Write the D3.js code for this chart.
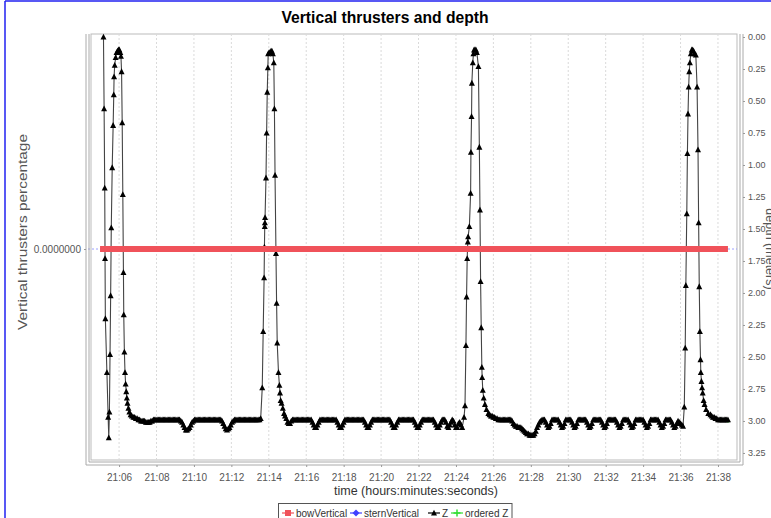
<!DOCTYPE html>
<html><head><meta charset="utf-8">
<script src="https://cdn.jsdelivr.net/npm/d3@7"></script>
<style>body{margin:0;background:#fff;overflow:hidden} svg{display:block}</style>
</head><body><svg id="c" width="771" height="518"></svg>
<script>
// ---------------- data ----------------
const chartTitle = "Vertical thrusters and depth";
const xAxisTitle = "time (hours:minutes:seconds)";
const yLeftTitle = "Vertical thrusters percentage";
const yRightTitle = "depth (meters)";
const xTickLabels = ["21:06","21:08","21:10","21:12","21:14","21:16","21:18","21:20","21:22","21:24","21:26","21:28","21:30","21:32","21:34","21:36","21:38"];
const depthTicks = [0,0.25,0.5,0.75,1,1.25,1.5,1.75,2,2.25,2.5,2.75,3,3.25];
const thrusterTicks = [0];
const legendLabels = ["bowVertical","sternVertical","Z","ordered Z"];

// times are seconds after 21:00:00
const bowTimes = [299, 2312];
const bowValues = [0, 0];
const sternTimes = [299, 2312];
const sternValues = [0, 0];
const orderedZTimes = [2312];
const orderedZValues = [3.0];

const zDive1 = [[310,0.00],[312,0.56],[314,1.18],[315,1.73],[316,2.20],[321,2.62],[325,2.97],[327,3.13],[329,2.93],[331,2.48],[333,2.02],[335,1.49],[338,1.02],[341,0.69],[343,0.45],[344,0.31],[346,0.22],[349,0.16],[352,0.12],[355,0.11],[358,0.10],[361,0.10],[364,0.12],[366,0.15],[368,0.27],[370,0.67],[372,1.23],[374,1.84],[375,2.17],[377,2.46],[379,2.62],[381,2.71],[383,2.77],[385,2.82],[387,2.86],[390,2.90],[393,2.93],[397,2.95],[401,2.96]];
const zFlatStep = 4;
const zFlat1Start = 406;
const zFlat1 = [2.97,2.97,2.98,2.98,2.99,2.99,3.00,3.00,3.00,3.00,3.01,3.01,3.01,3.01,3.00,3.00,
  2.99,2.99,2.99,2.99,2.99,2.99,2.99,2.99,2.99,2.99,2.99,2.99,2.99,2.99,2.99,2.99,2.99,2.99,2.99,2.99,2.99,2.99,
  3.00,3.01,3.03,3.05,3.07,3.07,3.06,3.05,3.03,3.01,3.00,
  2.99,2.99,2.99,2.99,2.99,2.99,2.99,2.99,2.99,2.99,2.99,2.99,2.99,2.99,2.99,2.99,2.99,2.99,2.99,2.99,2.99,2.99,
  3.00,3.02,3.04,3.06,3.07,3.06,3.05,3.03,3.01,3.00,
  2.99,2.99,2.99,2.99,2.99,2.99,2.99,2.99,2.99,2.99,2.99,2.99,2.99,2.99,2.99,2.99,2.99,2.99,2.99,2.99,2.99,2.98];
const zDive2 = [[819,2.74],[822,2.30],[825,1.88],[826,1.64],[827,1.48],[827.5,1.45],[828,1.41],[831,1.10],[833,0.75],[835,0.43],[837,0.24],[838,0.13],[841,0.12],[844,0.12],[847,0.11],[850,0.11],[853,0.13],[856,0.20],[858,0.56],[860,1.08],[863,1.69],[865,2.08],[867,2.39],[871,2.62],[874,2.72],[876,2.78],[878,2.84],[881,2.86],[885,2.90],[889,2.94]];
const zFlat2Start = 892;
const zFlat2 = [2.96,2.98,3.01,3.02,3.02,3.00,2.99,
  2.99,2.99,2.99,2.99,2.99,2.99,2.99,2.99,2.99,2.99,2.99,2.99,2.99,2.99,2.99,
  3.01,3.03,3.05,3.05,3.03,3.01,
  2.99,2.99,2.99,2.99,2.99,2.99,2.99,2.99,2.99,2.99,2.99,2.99,2.99,2.99,
  3.01,3.03,3.05,3.05,3.03,3.01,
  2.99,2.99,2.99,2.99,2.99,2.99,2.99,2.99,2.99,2.99,2.99,2.99,2.99,2.99,2.99,2.99,
  3.01,3.03,3.05,3.05,3.03,3.01,
  2.99,2.99,2.99,2.99,2.99,2.99,2.99,2.99,2.99,2.99,2.99,2.99,2.99,2.99,2.99,
  3.01,3.03,3.05,3.05,3.03,3.01,
  2.99,2.99,2.99,2.99,2.99,2.99,2.99,2.99,2.99,2.99,2.99,2.99,2.99,
  3.01,3.03,3.05,3.05,3.03,3.01,
  2.99,2.99,2.99,2.99,2.99,2.99,2.99,2.99,2.99,2.99,
  3.01,3.03,3.05,3.05,3.03,3.01,
  2.99,2.99,2.99,
  3.01,3.04,3.05,3.03,3.01,
  2.99,3.00,3.03,3.05,3.05,3.02,
  3.01,3.03,3.05];
const zDive3 = [[1466,2.97],[1469,2.88],[1472,2.41],[1474,2.03],[1476,1.73],[1477,1.66],[1478,1.60],[1479,1.56],[1483,1.48],[1487,1.22],[1488,0.90],[1490,0.62],[1491,0.36],[1494,0.20],[1496,0.13],[1498,0.10],[1501,0.10],[1504,0.10],[1507,0.12],[1512,0.23],[1515,0.86],[1517,1.35],[1519,1.91],[1521,2.27],[1523,2.58],[1524,2.66],[1526,2.76],[1529,2.82],[1533,2.87],[1538,2.91],[1544,2.94],[1548,2.95]];
const zFlat3Start = 1552;
const zFlat3 = [2.96,2.96,2.97,2.97,2.98,2.98,
  2.99,2.99,2.99,2.99,2.99,2.99,2.99,2.99,2.99,2.99,2.99,
  3.00,3.02,3.03,3.04,3.04,3.05,3.05,3.05,3.06,3.07,3.08,3.09,3.10,3.10,3.11,3.11,3.11,3.11,3.10,3.08,3.05,3.03,3.01,3.00,
  2.99,2.99,2.99,
  3.01,3.03,3.05,3.04,3.02,
  2.99,2.99,2.99,2.99,2.99,2.99,
  3.01,3.03,3.05,3.04,3.02,
  2.99,2.99,2.99,2.99,2.99,
  3.01,3.03,3.05,3.04,3.02,
  2.99,2.99,2.99,2.99,2.99,2.99,2.99,
  3.01,3.03,3.05,3.04,3.02,
  2.99,2.99,2.99,2.99,2.99,2.99,2.99,
  3.01,3.03,3.05,3.04,3.02,
  2.99,2.99,2.99,2.99,2.99,2.99,2.99,
  3.01,3.03,3.05,3.04,3.02,
  2.99,2.99,2.99,2.99,2.99,
  3.01,3.03,3.05,3.04,3.02,
  2.99,2.99,2.99,2.99,2.99,2.99,2.99,
  3.01,3.03,3.05,3.04,3.02,
  2.99,2.99,2.99,2.99,2.99,2.99,2.99,
  3.01,3.03,3.05,3.04,3.02,
  2.99,2.99,2.99,2.99,2.99,
  3.01,3.03,3.05,3.04,3.02,
  3.00,3.01,3.02];
const zDive4 = [[2164,3.03],[2168,3.04],[2172,2.89],[2175,2.43],[2177,1.94],[2180,1.38],[2182,0.91],[2184,0.60],[2186,0.39],[2188,0.27],[2190,0.20],[2193,0.13],[2196,0.10],[2199,0.10],[2202,0.11],[2205,0.13],[2209,0.14],[2213,0.39],[2216,0.88],[2218,1.45],[2220,1.95],[2222,2.30],[2224,2.52],[2225,2.62],[2227,2.69],[2229,2.74],[2231,2.78],[2234,2.84],[2237,2.87],[2242,2.91],[2249,2.94],[2256,2.95]];
const zFlat4Start = 2260;
const zFlat4 = [2.96,2.97,2.97,2.98,2.98,2.99,2.99,2.99,2.99,2.99,2.99,2.99,2.99,2.99];

// ---------------- build ----------------
const flat = (start, vals) => vals.map((v,i)=>[start + i*zFlatStep, v]);
const zData = [].concat(zDive1, flat(zFlat1Start,zFlat1), zDive2, flat(zFlat2Start,zFlat2),
  zDive3, flat(zFlat3Start,zFlat3), zDive4, flat(zFlat4Start,zFlat4));

const base = new Date(2000,0,1,21,0,0).getTime();
const T = s => new Date(base + s*1000);
const P = {l:91, r:737, t:34, b:460};

const x = d3.scaleTime().domain([T(270), T(2341)]).range([P.l, P.r]);
const yD = d3.scaleLinear().domain([-0.0234, 3.305]).range([P.t, P.b]);
const yP = d3.scaleLinear().domain([-1, 1]).range([460, 38]);

const svg = d3.select("#c");
const FONT = "'Liberation Sans', Arial, sans-serif";

// outer blue frame
svg.append("line").attr("x1",5).attr("x2",771).attr("y1",1).attr("y2",1).attr("stroke","#2020f0").attr("stroke-width",1.5);
svg.append("line").attr("x1",5).attr("x2",5).attr("y1",1).attr("y2",518).attr("stroke","#2020f0").attr("stroke-width",1.5);

// title
svg.append("text").attr("x",385).attr("y",23).attr("text-anchor","middle")
  .attr("font-family",FONT).attr("font-weight","bold")
  .attr("font-size",17).attr("fill","#000")
  .attr("textLength",207).attr("lengthAdjust","spacingAndGlyphs").text(chartTitle);

// plot background + border
svg.append("rect").attr("x",P.l).attr("y",P.t).attr("width",P.r-P.l).attr("height",P.b-P.t)
  .attr("fill","#fff").attr("stroke","#bbb").attr("stroke-width",1);

// vertical grid lines
const xTickDates = xTickLabels.map(s => { const [h,m]=s.split(":").map(Number); return new Date(base + ((h-21)*3600 + m*60)*1000); });
svg.append("g").selectAll("line").data(xTickDates).join("line")
  .attr("x1",d=>x(d)).attr("x2",d=>x(d)).attr("y1",P.t).attr("y2",P.b)
  .attr("stroke","#dadada").attr("stroke-width",1).attr("stroke-dasharray","2,2");

// crosshair (range value 0)
svg.append("line").attr("x1",P.l-3).attr("x2",P.r).attr("y1",yP(0)).attr("y2",yP(0))
  .attr("stroke","#9aa0ff").attr("stroke-width",1).attr("stroke-dasharray","2,2");

// ordered Z (green) - bottom
svg.append("g").selectAll("circle").data(orderedZTimes.map((t,i)=>[t,orderedZValues[i]])).join("circle")
  .attr("cx",d=>x(T(d[0]))).attr("cy",d=>yD(d[1])).attr("r",1.6).attr("fill","#33dd33");

// Z series
const zLine = d3.line().x(d=>x(T(d[0]))).y(d=>yD(d[1]));
svg.append("path").datum(zData).attr("d",zLine).attr("fill","none").attr("stroke","#444").attr("stroke-width",1.1);
const tri = "M0,-3.2L3,2.6L-3,2.6Z";
svg.append("g").selectAll("path").data(zData).join("path")
  .attr("transform",d=>`translate(${x(T(d[0]))},${yD(d[1])})`).attr("d",tri).attr("fill","#000");

// stern (blue) and bow (red, on top)
const pLine = d3.line().x(d=>x(T(d[0]))).y(d=>yP(d[1]));
svg.append("path").datum(sternTimes.map((t,i)=>[t,sternValues[i]])).attr("d",pLine).attr("stroke","#4040ff").attr("stroke-width",1).attr("fill","none");
svg.append("path").datum(bowTimes.map((t,i)=>[t,bowValues[i]])).attr("d",pLine).attr("stroke","#f0525a").attr("stroke-width",6).attr("fill","none");

// axes lines (double look)
const axCol = "#aaa";
[[P.l-5,P.l-5,P.t,P.b+5],[P.l-2,P.l-2,P.t,P.b+2],[P.r+3,P.r+3,P.t,P.b+2],[P.r+6,P.r+6,P.t,P.b+5],
 [P.l-2,P.r+3,P.b+2,P.b+2],[P.l-5,P.r+6,P.b+5,P.b+5]].forEach(a=>{
  svg.append("line").attr("x1",a[0]).attr("x2",a[1]).attr("y1",a[2]).attr("y2",a[3]).attr("stroke",axCol).attr("stroke-width",1);
});

// x axis ticks & labels
const gx = svg.append("g").attr("transform",`translate(0,${P.b+5})`);
gx.call(d3.axisBottom(x).tickValues(xTickDates).tickFormat((d,i)=>xTickLabels[i]).tickSize(2).tickPadding(7));
gx.select(".domain").remove();
gx.selectAll("line").attr("stroke","#999");
gx.selectAll("text").attr("font-family",FONT).attr("font-size",10).attr("fill","#555");

// right axis (depth)
const gr = svg.append("g").attr("transform",`translate(${P.r+6},0)`);
gr.call(d3.axisRight(yD).tickValues(depthTicks).tickFormat(d3.format(".2f")).tickSize(2).tickPadding(3));
gr.select(".domain").remove();
gr.selectAll("line").attr("stroke","#999");
gr.selectAll("text").attr("font-family",FONT).attr("font-size",9).attr("fill","#555");

// left axis (thrusters)
const gl = svg.append("g").attr("transform",`translate(${P.l-5},0)`);
gl.call(d3.axisLeft(yP).tickValues(thrusterTicks).tickFormat(d3.format(".7f")).tickSize(2).tickPadding(3));
gl.select(".domain").remove();
gl.selectAll("line").attr("stroke","#999");
gl.selectAll("text").attr("font-family",FONT).attr("font-size",10).attr("fill","#555");

// axis titles
svg.append("text").attr("x",416).attr("y",495).attr("text-anchor","middle").attr("font-family",FONT)
  .attr("font-size",12.5).attr("fill","#333").text(xAxisTitle);
svg.append("text").attr("transform","translate(27,232) rotate(-90)").attr("text-anchor","middle").attr("font-family",FONT)
  .attr("font-size",13).attr("fill","#555").attr("textLength",196).attr("lengthAdjust","spacingAndGlyphs").text(yLeftTitle);
svg.append("text").attr("transform","translate(766,249) rotate(90)").attr("text-anchor","middle").attr("font-family",FONT)
  .attr("font-size",12.5).attr("fill","#555").text(yRightTitle);

// legend
const lg = svg.append("g");
lg.append("rect").attr("x",278.5).attr("y",503.5).attr("width",233.5).attr("height",22).attr("fill","#fff").attr("stroke","#555").attr("stroke-width",1);
const legItems = [
  {c:"#f0525a", sym:"M-3,-3H3V3H-3Z", x:282},
  {c:"#4040ff", sym:"M0,-3.5L3.5,0L0,3.5L-3.5,0Z", x:350},
  {c:"#000", sym:tri, x:428},
  {c:"#33dd33", sym:"M-3.5,0H3.5M0,-3.5V3.5", x:451}
];
legItems.forEach((it,i)=>{
  const g = lg.append("g").attr("transform",`translate(${it.x},513)`);
  g.append("line").attr("x1",0).attr("x2",12).attr("stroke",it.c).attr("stroke-width",1.2);
  g.append("path").attr("transform","translate(6,0)").attr("d",it.sym).attr("fill",i===3?"none":it.c).attr("stroke",i===3?it.c:"none").attr("stroke-width",1.5);
  g.append("text").attr("x",14).attr("y",3.5).attr("font-family",FONT).attr("font-size",10).attr("fill","#333").text(legendLabels[i]);
});
</script></body></html>
